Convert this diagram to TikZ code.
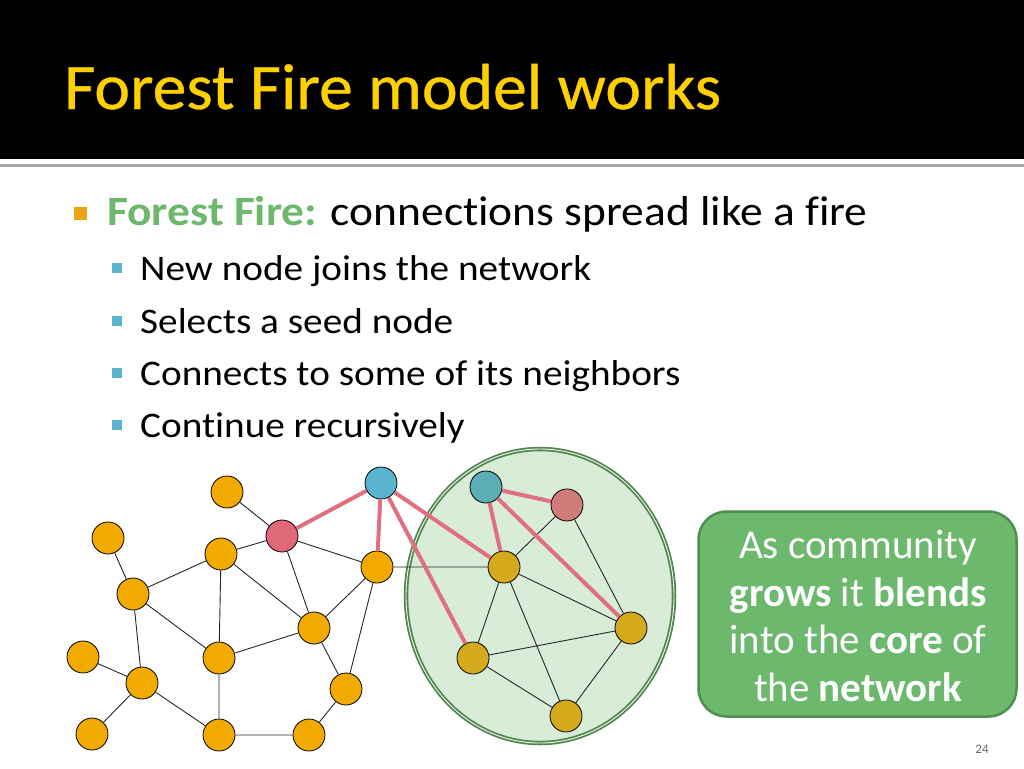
\documentclass[tikz,border=0pt]{standalone}
\usepackage{fontspec}
\setmainfont{Carlito}[Ligatures=NoCommon]
\newfontfamily\titlefont{Carlito}[Ligatures=NoCommon, FakeStretch=1.04, FakeBold=0.6]
\newfontfamily\widefont{Carlito}[Ligatures=NoCommon, FakeStretch=1.09]
\usetikzlibrary{shapes.geometric}

\definecolor{titleyellow}{HTML}{FFD000}
\definecolor{firegreen}{HTML}{6DB86D}
\definecolor{bulletorange}{HTML}{E8A317}
\definecolor{bulletblue}{HTML}{5AB4CF}
\definecolor{nodeorange}{HTML}{F0AA00}
\definecolor{nodegold}{HTML}{D4AA1C}
\definecolor{seedpink}{HTML}{E06878}
\definecolor{seedsalmon}{HTML}{CF7B78}
\definecolor{newblue}{HTML}{5AB4D0}
\definecolor{newteal}{HTML}{5AAFB5}
\definecolor{fireedge}{HTML}{E07080}
\definecolor{blobfill}{HTML}{D9ECD7}
\definecolor{blobline}{HTML}{528752}
\definecolor{boxfill}{HTML}{6CB86C}
\definecolor{boxline}{HTML}{4F8F4F}

\begin{document}
\begin{tikzpicture}[
    x=1pt, y=-1pt,
    every node/.style={inner sep=0pt},
    vertex/.style={circle, draw=black, line width=0.8pt, minimum size=32pt},
    plain/.style={vertex, fill=nodeorange},
    member/.style={vertex, fill=nodegold},
    link/.style={draw=black!85, line width=0.9pt},
    burn/.style={draw=fireedge, line width=4pt},
    coreblob/.style={ellipse, draw=blobline, fill=blobfill, line width=1.8pt,
        double=blobfill!40, double distance=0.9pt, minimum width=268pt, minimum height=294pt},
    subitem/.style={anchor=base west, font=\widefont\fontsize{36}{40}\selectfont},
    subsq/.style={fill=bulletblue, minimum size=10pt}
]
\useasboundingbox (0,0) rectangle (1024,768);

% title band
\fill[black] (0,0) rectangle (1024,159);
\fill[black!35] (0,164) rectangle (1024,167);
\node[anchor=base west, text=titleyellow, font=\titlefont\fontsize{65}{70}\selectfont] (title) at (64,109) {Forest Fire model works};

% bullets
\node[fill=bulletorange, minimum size=13pt] (sq0) at (80,213) {};
\node[anchor=base west, font=\widefont\fontsize{41.7}{46}\selectfont] (item0) at (107,225)
    {\textcolor{firegreen}{\bfseries Forest Fire:} connections spread like a fire};
\node[subsq] (sq1) at (117,268) {};
\node[subitem] (item1) at (140,280) {New node joins the network};
\node[subsq] (sq2) at (117,321) {};
\node[subitem] (item2) at (140,333) {Selects a seed node};
\node[subsq] (sq3) at (117,373) {};
\node[subitem] (item3) at (140,385) {Connects to some of its neighbors};
\node[subsq] (sq4) at (117,425) {};
\node[subitem] (item4) at (140,437) {Continue recursively};

% community
\node[coreblob] (core) at (540,596) {};

% network
\node[plain] (a) at (227,492) {};
\node[plain] (b) at (108,538) {};
\node[vertex, fill=seedpink] (seed) at (282,536) {};
\node[plain] (c) at (221,554) {};
\node[plain] (d) at (133,594) {};
\node[plain] (r) at (377,567) {};
\node[plain] (e) at (314,628) {};
\node[plain] (f) at (83,657) {};
\node[plain] (g) at (219,658) {};
\node[plain] (h) at (142,683) {};
\node[plain] (i) at (346,689) {};
\node[plain] (j) at (92,734) {};
\node[plain] (k) at (219,735) {};
\node[plain] (l) at (309,735) {};
\node[vertex, fill=newblue] (new) at (381,483) {};

\node[vertex, fill=newteal] (new2) at (486,487) {};
\node[vertex, fill=seedsalmon] (seed2) at (567,505) {};
\node[member] (m) at (504,567) {};
\node[member] (n) at (631,628) {};
\node[member] (o) at (473,658) {};
\node[member] (p) at (566,716) {};

\draw[link] (a) -- (seed) (seed) -- (c) (seed) -- (r) (seed) -- (e)
    (b) -- (d) (d) -- (c) (d) -- (g) (d) -- (h)
    (c) -- (g) (c) -- (e) (e) -- (g) (e) -- (r) (e) -- (i) (r) -- (i)
    (f) -- (h) (h) -- (j) (h) -- (k) (g) -- (k) (k) -- (l) (l) -- (i)
    (r) -- (m) (m) -- (seed2) (m) -- (n) (m) -- (o) (m) -- (p)
    (seed2) -- (n) (o) -- (n) (o) -- (p) (n) -- (p);
\draw[burn] (new) -- (seed) (new) -- (r) (new) -- (m) (new) -- (o);
\draw[burn] (new2) -- (seed2) (new2) -- (m) (new2) -- (n);

% note
\node[draw=boxline, fill=boxfill, line width=2.5pt, rounded corners=28pt,
    minimum width=318pt, minimum height=205pt] (note) at (857.5,614) {};
\node[text=white, align=center, font=\fontsize{41}{47.5}\selectfont] (notetext) at (858,616)
    {As community\\ \textbf{grows} it \textbf{blends}\\ into the \textbf{core} of\\ the \textbf{network}};

\node[anchor=base, text=black!60, font=\fontsize{13}{15}\selectfont] (page) at (982,753) {24};
\end{tikzpicture}
\end{document}
